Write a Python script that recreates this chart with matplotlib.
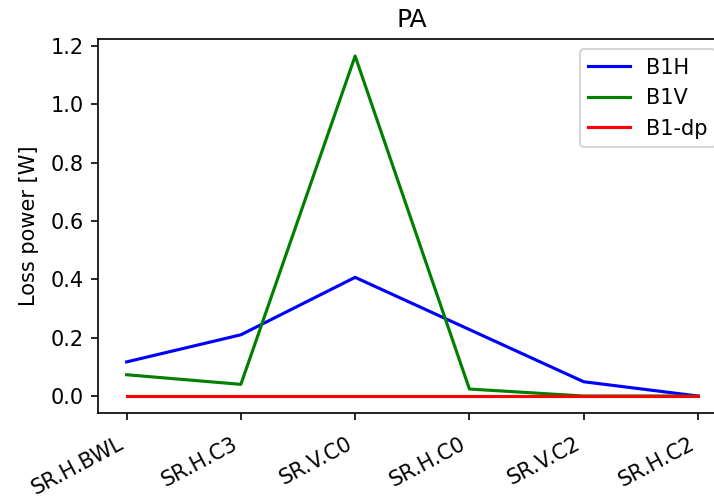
import matplotlib
matplotlib.use('Agg')
import matplotlib.pyplot as plt

# Daten
elements = ['SR.H.BWL', 'SR.H.C3', 'SR.V.C0', 'SR.H.C0', 'SR.V.C2', 'SR.H.C2']
b1h = [0.117, 0.210, 0.407, 0.228, 0.049, 0.0]
b1v = [0.073, 0.040, 1.166, 0.024, 0.0, 0.0]
b1dp = [0.0, 0.0, 0.0, 0.0, 0.0, 0.0]

fig = plt.figure(figsize=(714 / 150, 499 / 150), dpi=150)
ax = fig.add_axes([0.1373, 0.1723, 0.8802, 0.7495])

x = range(len(elements))
ax.plot(x, b1h, color='b', label='B1H')
ax.plot(x, b1v, color='g', label='B1V')
ax.plot(x, b1dp, color='r', label='B1-dp')

ax.set_xticks(list(x))
ax.set_xticklabels(elements, rotation=28, ha='right')
ax.tick_params(axis='x', pad=6.5)
ax.set_ylabel('Loss power [W]', labelpad=5.5)
ax.set_title('PA')
ax.legend(loc='upper right')

fig.savefig('out.png', dpi=150)
